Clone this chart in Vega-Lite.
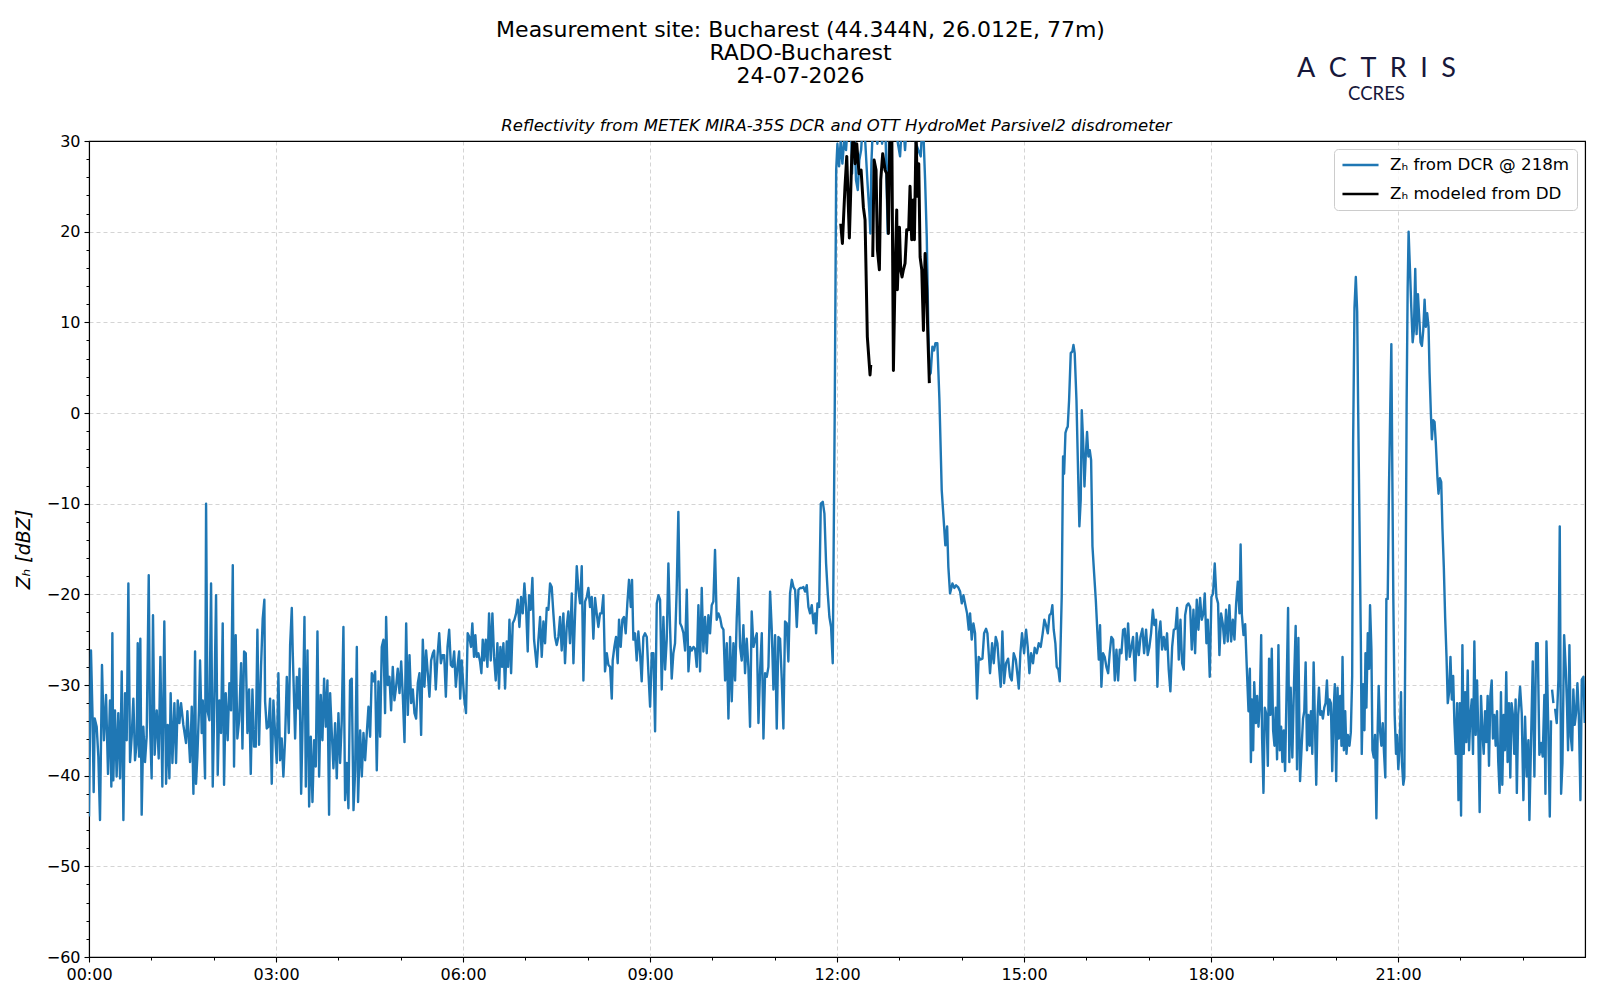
{
  "$schema": "https://vega.github.io/schema/vega-lite/v6.json",
  "width": 1496,
  "height": 816,
  "autosize": {"type": "none"},
  "padding": {"left": 89, "top": 141, "right": 15, "bottom": 43},
  "background": "white",
  "config": {"view": {"stroke": "#000000", "strokeWidth": 1.1}, "font": "DejaVu Sans"},
  "datasets": {
    "dcr": [
      {"m":0,"z":-44.5},{"m":1.9,"z":-26.2},{"m":3.5,"z":-33.9},{"m":4.5,"z":-41.8},{"m":5.5,"z":-33.7},{"m":7.4,"z":-34.6},{"m":9,"z":-37.9},{"m":10.6,"z":-44.9},{"m":12.5,"z":-27.8},{"m":14.4,"z":-36.1},{"m":16.4,"z":-31.1},{"m":18.3,"z":-39.8},{"m":20.2,"z":-31.7},{"m":21.5,"z":-41.2},{"m":22.5,"z":-24.3},{"m":23.4,"z":-40.5},{"m":25,"z":-32.8},{"m":26.6,"z":-40.1},{"m":28.2,"z":-33.1},{"m":29.9,"z":-40.3},{"m":31.5,"z":-28.5},{"m":33.1,"z":-44.9},{"m":34.7,"z":-30.9},{"m":36.3,"z":-36.1},{"m":37.9,"z":-18.8},{"m":39.5,"z":-38.5},{"m":41.1,"z":-35.7},{"m":42.7,"z":-31.5},{"m":44.3,"z":-38.3},{"m":45.9,"z":-36.4},{"m":46.9,"z":-25.4},{"m":48.2,"z":-37.9},{"m":49.4,"z":-24.9},{"m":50.7,"z":-44.3},{"m":52.3,"z":-34.6},{"m":53.9,"z":-38.5},{"m":55.5,"z":-35.7},{"m":57.5,"z":-17.9},{"m":58.7,"z":-34.2},{"m":60.3,"z":-40.3},{"m":61.6,"z":-22.3},{"m":63.2,"z":-37.7},{"m":65.2,"z":-32.8},{"m":67.1,"z":-38.1},{"m":68.7,"z":-26.9},{"m":70.6,"z":-41.2},{"m":72.5,"z":-23},{"m":74.2,"z":-40.9},{"m":75.8,"z":-34.4},{"m":77.4,"z":-40.3},{"m":78.6,"z":-30.9},{"m":80.3,"z":-38.6},{"m":82.2,"z":-32},{"m":83.8,"z":-38.6},{"m":85.4,"z":-31.7},{"m":87,"z":-34.2},{"m":88.6,"z":-32},{"m":90.8,"z":-34.4},{"m":93.4,"z":-36.4},{"m":94.7,"z":-32.9},{"m":97.3,"z":-38.5},{"m":98.9,"z":-32.4},{"m":100.5,"z":-42},{"m":102.1,"z":-26.3},{"m":103,"z":-40.9},{"m":104.3,"z":-37.9},{"m":105.9,"z":-32.6},{"m":106.9,"z":-27.3},{"m":108.5,"z":-35.3},{"m":109.5,"z":-31.7},{"m":111.7,"z":-40.3},{"m":112.7,"z":-10},{"m":114,"z":-32.8},{"m":115.9,"z":-33.9},{"m":117.5,"z":-18.8},{"m":119.1,"z":-41.2},{"m":120.7,"z":-31.7},{"m":122.3,"z":-20.1},{"m":123.9,"z":-39.9},{"m":125.5,"z":-31.7},{"m":127.1,"z":-35.3},{"m":128.7,"z":-23.2},{"m":130,"z":-41},{"m":131.6,"z":-30.9},{"m":133.5,"z":-36.1},{"m":135.1,"z":-29.8},{"m":136.7,"z":-32.8},{"m":138.4,"z":-16.8},{"m":139.6,"z":-39},{"m":141.2,"z":-24.5},{"m":142.8,"z":-35.9},{"m":144.5,"z":-33.9},{"m":146.4,"z":-27.6},{"m":147.7,"z":-37},{"m":149.3,"z":-26.3},{"m":150.9,"z":-26.5},{"m":152.5,"z":-35.3},{"m":154.1,"z":-30.5},{"m":155.7,"z":-39.8},{"m":157.3,"z":-30.5},{"m":158.9,"z":-36.8},{"m":160.5,"z":-36.8},{"m":162.1,"z":-23.9},{"m":163.7,"z":-36.6},{"m":165.6,"z":-28},{"m":167.2,"z":-22.7},{"m":168.8,"z":-20.6},{"m":169.5,"z":-31.8},{"m":171.1,"z":-34.8},{"m":172.7,"z":-34.6},{"m":174.3,"z":-31.5},{"m":175.9,"z":-40.9},{"m":177.5,"z":-31.7},{"m":179.1,"z":-35.3},{"m":180.7,"z":-38.6},{"m":182.3,"z":-28.7},{"m":183.9,"z":-38.3},{"m":185.5,"z":-35.9},{"m":187.1,"z":-40.1},{"m":188.7,"z":-36.1},{"m":190.4,"z":-29.1},{"m":192.3,"z":-35.3},{"m":193.6,"z":-25.6},{"m":195.2,"z":-21.5},{"m":196.1,"z":-26.3},{"m":198.4,"z":-35.9},{"m":200,"z":-29.1},{"m":201.6,"z":-32.6},{"m":202.6,"z":-28.2},{"m":204.2,"z":-42},{"m":205.8,"z":-33.1},{"m":207.4,"z":-22.5},{"m":208.7,"z":-41.2},{"m":210.3,"z":-26.2},{"m":211.9,"z":-43.4},{"m":213.5,"z":-35.7},{"m":215.1,"z":-42.9},{"m":216.7,"z":-36.1},{"m":218.3,"z":-39},{"m":219.9,"z":-24.1},{"m":221.5,"z":-40.1},{"m":223.1,"z":-31.1},{"m":224.7,"z":-36.1},{"m":226.3,"z":-29.3},{"m":227.9,"z":-34.6},{"m":229.5,"z":-29.5},{"m":231.1,"z":-44.3},{"m":232.1,"z":-30.9},{"m":233.7,"z":-35.3},{"m":235.3,"z":-39.2},{"m":236.9,"z":-34.2},{"m":238.5,"z":-40.3},{"m":240.1,"z":-33.1},{"m":241.7,"z":-38.6},{"m":243.3,"z":-33.9},{"m":244.9,"z":-23.6},{"m":246.5,"z":-42.7},{"m":248.1,"z":-38.6},{"m":249.7,"z":-43.6},{"m":251.3,"z":-29.5},{"m":252.9,"z":-29.3},{"m":254.6,"z":-43.8},{"m":256.2,"z":-39.4},{"m":257.8,"z":-25.8},{"m":259,"z":-42.9},{"m":261,"z":-35},{"m":262.6,"z":-40.1},{"m":264.2,"z":-35.3},{"m":265.8,"z":-38.3},{"m":267.4,"z":-35.3},{"m":269,"z":-32.4},{"m":270.6,"z":-35.7},{"m":272.2,"z":-28.7},{"m":273.8,"z":-29.6},{"m":275.4,"z":-28.5},{"m":277,"z":-39.4},{"m":278.6,"z":-29.6},{"m":280.2,"z":-35.7},{"m":281.8,"z":-25.8},{"m":283.4,"z":-25},{"m":285,"z":-33.1},{"m":286,"z":-22.5},{"m":287.6,"z":-30},{"m":289.2,"z":-29.1},{"m":290.8,"z":-32.8},{"m":292.4,"z":-28},{"m":294,"z":-31.7},{"m":295.6,"z":-30.2},{"m":297.2,"z":-28.2},{"m":298.9,"z":-30.9},{"m":300.5,"z":-27.4},{"m":302.1,"z":-31.3},{"m":303.7,"z":-36.3},{"m":305.3,"z":-23.2},{"m":306.9,"z":-33.3},{"m":308.5,"z":-26.7},{"m":310.1,"z":-32},{"m":311.7,"z":-30.5},{"m":313.3,"z":-33.1},{"m":314.9,"z":-33.7},{"m":316.5,"z":-29.8},{"m":318.1,"z":-28.7},{"m":319.7,"z":-35.5},{"m":321.3,"z":-25},{"m":322.9,"z":-30.2},{"m":324.5,"z":-26.2},{"m":326.1,"z":-28.7},{"m":327.7,"z":-31.3},{"m":329.3,"z":-27.3},{"m":331,"z":-26.5},{"m":332.2,"z":-26.2},{"m":333.8,"z":-30.5},{"m":335.4,"z":-26.9},{"m":337.1,"z":-24.3},{"m":338.7,"z":-27.6},{"m":340.3,"z":-26.7},{"m":341.9,"z":-26.7},{"m":343.5,"z":-31.3},{"m":345.1,"z":-25.8},{"m":346.7,"z":-23.9},{"m":348.3,"z":-27.8},{"m":349.9,"z":-28},{"m":351.5,"z":-26.3},{"m":353.1,"z":-30.2},{"m":354.7,"z":-28},{"m":356.3,"z":-26.3},{"m":357.3,"z":-31.5},
      {"m":358.8,"z":-27.3},{"m":361,"z":-31.3},{"m":362.9,"z":-33.1},{"m":364.5,"z":-24.3},{"m":366.1,"z":-24.7},{"m":367.7,"z":-25.8},{"m":369,"z":-23.2},{"m":370.6,"z":-26.9},{"m":371.9,"z":-24.5},{"m":373.2,"z":-26.9},{"m":374.8,"z":-26.5},{"m":376.4,"z":-27.4},{"m":377.7,"z":-28.7},{"m":379,"z":-25},{"m":380.3,"z":-27.3},{"m":381.9,"z":-25},{"m":383.5,"z":-28},{"m":385.1,"z":-22.1},{"m":386.7,"z":-27.3},{"m":388.3,"z":-22.1},{"m":389.9,"z":-26.9},{"m":391.5,"z":-29.5},{"m":393.1,"z":-25.4},{"m":394.7,"z":-30.4},{"m":396,"z":-25.8},{"m":397.6,"z":-28},{"m":398.9,"z":-25.4},{"m":400.5,"z":-30.4},{"m":402.1,"z":-25.2},{"m":403.4,"z":-28},{"m":404.7,"z":-22.8},{"m":406.3,"z":-28.7},{"m":407.9,"z":-23.2},{"m":409.5,"z":-22.8},{"m":411.1,"z":-22.1},{"m":412.7,"z":-20.6},{"m":414.3,"z":-23.6},{"m":415.9,"z":-20.3},{"m":417.5,"z":-22.1},{"m":419.1,"z":-18.8},{"m":420.7,"z":-21.4},{"m":422.3,"z":-26.3},{"m":423.6,"z":-20.1},{"m":425.2,"z":-21.7},{"m":426.8,"z":-18.2},{"m":428.4,"z":-25},{"m":431,"z":-28},{"m":432.6,"z":-25},{"m":434.2,"z":-22.5},{"m":435.8,"z":-26.9},{"m":437.4,"z":-23},{"m":439,"z":-25.4},{"m":440.6,"z":-21.5},{"m":442.2,"z":-21.7},{"m":443.8,"z":-18.8},{"m":445.4,"z":-19.2},{"m":447,"z":-22.1},{"m":448.6,"z":-24.7},{"m":450.2,"z":-25.6},{"m":451.8,"z":-24.7},{"m":453.4,"z":-22.5},{"m":455,"z":-26.2},{"m":456.6,"z":-22.1},{"m":458.2,"z":-27.6},{"m":459.8,"z":-23.6},{"m":461.4,"z":-21.9},{"m":463,"z":-25.4},{"m":464.7,"z":-19.9},{"m":466.3,"z":-27.6},{"m":467.9,"z":-22.1},{"m":469.5,"z":-16.9},{"m":471.1,"z":-19.5},{"m":472.7,"z":-21},{"m":474.3,"z":-16.9},{"m":475.9,"z":-29.5},{"m":477.5,"z":-20.8},{"m":479.1,"z":-20.3},{"m":480.7,"z":-19.3},{"m":482.3,"z":-21.4},{"m":483.9,"z":-20.3},{"m":485.5,"z":-24.9},{"m":487.1,"z":-20.4},{"m":488.7,"z":-22.1},{"m":490.3,"z":-23.6},{"m":491.9,"z":-22.1},{"m":493.5,"z":-22.1},{"m":495.1,"z":-20.1},{"m":496.7,"z":-28.5},{"m":498.4,"z":-26.5},{"m":500,"z":-27.8},{"m":501.6,"z":-28},{"m":503.2,"z":-31.5},{"m":504.1,"z":-27.3},{"m":505.7,"z":-25.8},{"m":507.3,"z":-24.7},{"m":508.9,"z":-27.6},{"m":510.2,"z":-22.8},{"m":511.8,"z":-25.8},{"m":513.4,"z":-22.8},{"m":515,"z":-22.5},{"m":516.6,"z":-24.3},{"m":518.2,"z":-21},{"m":519.8,"z":-18.4},{"m":521.5,"z":-21.4},{"m":522.7,"z":-18.4},{"m":524,"z":-25},{"m":525.6,"z":-24.3},{"m":527.2,"z":-27.3},{"m":528.8,"z":-24.1},{"m":530.4,"z":-26.5},{"m":532,"z":-29.6},{"m":533.6,"z":-24.7},{"m":535.2,"z":-24.3},{"m":536.9,"z":-24.7},{"m":538.5,"z":-28.7},{"m":540.1,"z":-32.4},{"m":541.7,"z":-26.5},{"m":543.3,"z":-26.5},{"m":544.9,"z":-35.1},{"m":546.5,"z":-21},{"m":548.1,"z":-20.1},{"m":549.7,"z":-20.6},{"m":551.3,"z":-30.5},{"m":552.9,"z":-22.5},{"m":554.5,"z":-28.3},{"m":556.1,"z":-25},{"m":557.7,"z":-16.6},{"m":559.3,"z":-23.6},{"m":560.9,"z":-29.3},{"m":562.5,"z":-26.5},{"m":564.1,"z":-25.4},{"m":565.7,"z":-19.5},{"m":567.3,"z":-10.9},{"m":569,"z":-23.2},{"m":570.6,"z":-23.6},{"m":572.2,"z":-24.3},{"m":573.8,"z":-26.2},{"m":575.4,"z":-19.5},{"m":577,"z":-28.5},{"m":578.6,"z":-25.8},{"m":580.2,"z":-26.2},{"m":581.8,"z":-25.8},{"m":583.4,"z":-26},{"m":585,"z":-28},{"m":586.6,"z":-21.2},{"m":588.2,"z":-28.5},{"m":589.8,"z":-19.3},{"m":591.4,"z":-26.3},{"m":593,"z":-22.5},{"m":594.6,"z":-26.5},{"m":596.2,"z":-22.3},{"m":597.8,"z":-24.3},{"m":599.4,"z":-21.2},{"m":601,"z":-20.8},{"m":602.6,"z":-15.1},{"m":604.2,"z":-22.8},{"m":605.9,"z":-22.1},{"m":607.5,"z":-22.6},{"m":609.1,"z":-23.6},{"m":610.7,"z":-23.9},{"m":612.3,"z":-29.5},{"m":613.9,"z":-25.4},{"m":615.5,"z":-33.7},{"m":617.1,"z":-24.7},{"m":618.7,"z":-31.8},{"m":620.3,"z":-25.4},{"m":621.9,"z":-29.5},{"m":623.5,"z":-22.6},{"m":625.1,"z":-18.2},{"m":626.7,"z":-25.8},{"m":628.3,"z":-27.3},{"m":629.9,"z":-23.4},{"m":631.5,"z":-28.7},{"m":633.1,"z":-24.9},{"m":634.7,"z":-28},{"m":636.3,"z":-34.6},{"m":637.9,"z":-21.9},{"m":639.6,"z":-25.8},{"m":641.2,"z":-25},{"m":642.8,"z":-24.3},{"m":644.4,"z":-34.2},{"m":646,"z":-28.3},{"m":647.6,"z":-24.3},{"m":649.2,"z":-35.9},{"m":650.8,"z":-28.7},{"m":652.4,"z":-29.1},{"m":654,"z":-28},{"m":655.6,"z":-19.7},{"m":657.2,"z":-23.9},{"m":658.8,"z":-30.5},{"m":660.4,"z":-24.5},{"m":662,"z":-34.8},{"m":663.6,"z":-24.7},{"m":665.2,"z":-24.9},{"m":666.8,"z":-29.3},{"m":668.4,"z":-34.8},{"m":670,"z":-23},{"m":671.6,"z":-23.2},{"m":673.2,"z":-27.4},{"m":674.8,"z":-19.9},{"m":676.5,"z":-18.4},{"m":678.1,"z":-19.2},{"m":679.7,"z":-19.5},{"m":681.3,"z":-23.6},{"m":682.9,"z":-19.5},{"m":684.5,"z":-19.3},{"m":686.1,"z":-19.3},{"m":687.7,"z":-19.2},{"m":689.3,"z":-19.7},{"m":690.9,"z":-19},{"m":692.5,"z":-21.4},{"m":694.1,"z":-22.1},{"m":695.7,"z":-21.2},{"m":697.3,"z":-23.2},{"m":698.9,"z":-22.1},{"m":699.9,"z":-24.3},{"m":701.2,"z":-21},{"m":702.8,"z":-21.4},{"m":704.4,"z":-10},{"m":706.3,"z":-9.8},{"m":707.9,"z":-11.1},{"m":709.5,"z":-16.6},{"m":711.1,"z":-19.9},{"m":712.7,"z":-22.5},{"m":714.3,"z":-23.6},{"m":715.9,"z":-27.6},
      {"m":717.8,"z":0},{"m":719.2,"z":26.8},{"m":720.4,"z":29.7},{"m":722,"z":27.2},{"m":723.6,"z":30.1},{"m":725.2,"z":27.5},{"m":726.8,"z":29.9},{"m":728.7,"z":29},{"m":731,"z":33},{"m":733.2,"z":33},{"m":734.5,"z":26.4},{"m":736.4,"z":33},{"m":738.3,"z":25.7},{"m":740,"z":24.6},{"m":741.5,"z":27.9},{"m":743.2,"z":29},{"m":745.4,"z":33},{"m":747.3,"z":29.7},{"m":749.2,"z":25.7},{"m":751.2,"z":22},{"m":752.1,"z":19.8},{"m":753.1,"z":27.5},{"m":755,"z":33},{"m":758.9,"z":29.7},{"m":760.8,"z":33},{"m":763.4,"z":29.7},{"m":766.3,"z":33},{"m":768.8,"z":19.8},{"m":770.4,"z":33},{"m":778.1,"z":30.1},{"m":780.7,"z":28.3},{"m":783,"z":33},{"m":785.5,"z":29},{"m":787.8,"z":33},{"m":790.3,"z":30.1},{"m":792.9,"z":33},{"m":796.1,"z":29.7},{"m":798.3,"z":29},{"m":800.6,"z":28.3},{"m":802.5,"z":33},{"m":804.8,"z":25.7},{"m":806.4,"z":19.4},{"m":808,"z":8.8},{"m":809,"z":4.2},{"m":810.2,"z":4.4},{"m":811.8,"z":7.3},{"m":813.4,"z":6.9},{"m":814.7,"z":7.7},{"m":816.6,"z":7.7},
      {"m":818.6,"z":1.4},{"m":820.8,"z":-8.5},{"m":823.1,"z":-12.5},{"m":824.3,"z":-14.6},{"m":826,"z":-12.5},{"m":827.2,"z":-17},{"m":828.8,"z":-19.9},{"m":831.1,"z":-18.8},{"m":833,"z":-19.3},{"m":834.6,"z":-19},{"m":836.5,"z":-19.2},{"m":838.5,"z":-19.7},{"m":840.1,"z":-21},{"m":841.7,"z":-20.1},{"m":843.6,"z":-21.2},{"m":845.2,"z":-22.1},{"m":846.8,"z":-23.9},{"m":848.1,"z":-22.1},{"m":849.7,"z":-25},{"m":851.3,"z":-23.2},{"m":852.9,"z":-24.3},{"m":854.8,"z":-31.5},{"m":856.4,"z":-26.9},{"m":858,"z":-27.2},{"m":860,"z":-27.1},{"m":861.6,"z":-24.3},{"m":863.5,"z":-23.8},{"m":864.8,"z":-24.3},{"m":867.3,"z":-28.7},{"m":869.3,"z":-25.4},{"m":870.9,"z":-27.6},{"m":872.8,"z":-24.7},{"m":874.4,"z":-25.4},{"m":876,"z":-28},{"m":877.6,"z":-30.2},{"m":879.2,"z":-24.1},{"m":880.8,"z":-29.8},{"m":882.7,"z":-27.6},{"m":884.7,"z":-27.1},{"m":886.6,"z":-29.1},{"m":888.2,"z":-29.5},{"m":890.1,"z":-26.5},{"m":892.1,"z":-27.2},{"m":893.7,"z":-28.9},{"m":895,"z":-30.4},{"m":896.5,"z":-26.5},{"m":898.1,"z":-24.3},{"m":900.1,"z":-26.5},{"m":902,"z":-23.9},{"m":903.6,"z":-25.8},{"m":905.2,"z":-28.7},{"m":906.8,"z":-26.5},{"m":908.7,"z":-27.6},{"m":910.3,"z":-25.9},{"m":912.3,"z":-26.5},{"m":914.2,"z":-25.4},{"m":916.1,"z":-25.8},{"m":918,"z":-24.3},{"m":919.6,"z":-22.8},{"m":921.2,"z":-23.4},{"m":922.9,"z":-24.3},{"m":924.5,"z":-22.3},{"m":926.1,"z":-22.1},{"m":927.3,"z":-21.2},{"m":928.6,"z":-23.9},{"m":930.2,"z":-25.4},{"m":931.5,"z":-28},{"m":933.1,"z":-28.3},{"m":934.4,"z":-29.6},{"m":936.3,"z":-20.3},{"m":937.6,"z":-4.8},{"m":938.6,"z":-6.7},{"m":939.9,"z":-2.2},{"m":941.2,"z":-1.7},{"m":942.1,"z":-1.5},{"m":943.4,"z":1.4},{"m":945,"z":6.6},{"m":946.6,"z":6.8},{"m":947.6,"z":7.5},{"m":948.8,"z":6.6},{"m":950.5,"z":1.4},{"m":952.1,"z":-6.7},{"m":953.3,"z":-12.5},{"m":954.6,"z":-9.6},{"m":955.6,"z":0.3},{"m":956.9,"z":-3},{"m":958.2,"z":-8.1},{"m":959.4,"z":-4.8},{"m":960.7,"z":-2.1},{"m":962,"z":-4.8},{"m":963.3,"z":-4.1},{"m":964.6,"z":-5.2},{"m":965.9,"z":-14.7},{"m":967.5,"z":-17.7},{"m":969.1,"z":-20.6},{"m":970.7,"z":-24.3},{"m":972,"z":-27.2},{"m":973.2,"z":-23.4},{"m":974.5,"z":-30.2},{"m":976.1,"z":-26.5},{"m":977.7,"z":-26.9},{"m":979.3,"z":-28},{"m":981,"z":-28.7},{"m":982.5,"z":-26.5},{"m":984.1,"z":-24.7},{"m":985.8,"z":-25},{"m":987.4,"z":-29.5},{"m":989,"z":-26.1},{"m":990.6,"z":-29.5},{"m":992.2,"z":-26.1},{"m":993.8,"z":-26.5},{"m":995.4,"z":-23.9},{"m":997,"z":-23.8},{"m":998.6,"z":-27.2},{"m":1000.2,"z":-23.2},{"m":1001.8,"z":-26.9},{"m":1003.4,"z":-25.8},{"m":1005,"z":-24.7},{"m":1006.9,"z":-29.5},{"m":1008.5,"z":-24.3},{"m":1010.5,"z":-26.7},{"m":1012.1,"z":-24.7},{"m":1014,"z":-23.8},{"m":1015.6,"z":-26.5},{"m":1017.5,"z":-23.9},{"m":1019.1,"z":-26.7},{"m":1020.7,"z":-25.8},{"m":1022.3,"z":-24.3},{"m":1024,"z":-21.7},{"m":1025.5,"z":-23.4},{"m":1027.1,"z":-22.8},{"m":1028.4,"z":-30.2},{"m":1030,"z":-24.3},{"m":1031.3,"z":-23},{"m":1032.9,"z":-26.1},{"m":1034.5,"z":-24.7},{"m":1036.1,"z":-26.1},{"m":1037.7,"z":-24.3},{"m":1039.3,"z":-28.3},{"m":1040.9,"z":-30.7},{"m":1042.6,"z":-25.8},{"m":1044.2,"z":-23.9},{"m":1045.8,"z":-23.8},{"m":1047.4,"z":-21.5},{"m":1049,"z":-27.2},{"m":1050.6,"z":-22.8},{"m":1052.2,"z":-27.6},{"m":1053.8,"z":-28.3},{"m":1055.1,"z":-22.3},{"m":1056.7,"z":-21.2},{"m":1058.3,"z":-21},{"m":1059.9,"z":-21.4},{"m":1061.5,"z":-26.1},{"m":1063.1,"z":-21.7},{"m":1064.7,"z":-26.5},{"m":1066.3,"z":-20.6},{"m":1067.9,"z":-23.9},{"m":1069.5,"z":-20.4},{"m":1071.1,"z":-22.8},{"m":1072.7,"z":-22.1},{"m":1074,"z":-19.9},{"m":1075.6,"z":-25.4},{"m":1076.9,"z":-22.8},{"m":1078.8,"z":-29.1},{"m":1080.4,"z":-20.3},{"m":1082,"z":-19.9},{"m":1083.6,"z":-16.6},{"m":1085.2,"z":-20.3},{"m":1086.8,"z":-21},{"m":1088.1,"z":-26.7},{"m":1089.7,"z":-22.1},{"m":1091.3,"z":-23.2},{"m":1092.9,"z":-25.4},{"m":1094.5,"z":-21.7},{"m":1096.1,"z":-25.2},{"m":1097.7,"z":-21.2},{"m":1099.4,"z":-25.2},{"m":1101,"z":-22.8},{"m":1102.6,"z":-25},{"m":1104.2,"z":-21},{"m":1105.8,"z":-18.6},{"m":1107.4,"z":-22.1},
      {"m":1108.5,"z":-14.5},{"m":1109.7,"z":-22.2},{"m":1111.3,"z":-24.5},{"m":1112.9,"z":-23.3},{"m":1114.5,"z":-28.2},{"m":1116.1,"z":-32.9},{"m":1117.4,"z":-28.2},{"m":1118.4,"z":-38.5},{"m":1119.3,"z":-31.6},{"m":1120.6,"z":-37.2},{"m":1121.6,"z":-29.7},{"m":1123.2,"z":-34.2},{"m":1124.4,"z":-31.2},{"m":1125.7,"z":-34.6},{"m":1127,"z":-32},{"m":1128.3,"z":-24.5},{"m":1129.2,"z":-35.9},{"m":1130.5,"z":-41.9},{"m":1131.8,"z":-32.5},{"m":1133.4,"z":-33.3},{"m":1134.7,"z":-38.9},{"m":1135.9,"z":-27.1},{"m":1137.2,"z":-33.3},{"m":1138.5,"z":-26},{"m":1139.8,"z":-35},{"m":1141.1,"z":-36.7},{"m":1142.3,"z":-32.5},{"m":1143.6,"z":-38.2},{"m":1144.9,"z":-25.6},{"m":1146.2,"z":-37.2},{"m":1147.5,"z":-34.6},{"m":1148.7,"z":-38.5},{"m":1150,"z":-35},{"m":1151.3,"z":-39.5},{"m":1152.6,"z":-31.6},{"m":1154.2,"z":-21.5},{"m":1155.4,"z":-38.5},{"m":1156.7,"z":-30.3},{"m":1158.3,"z":-38},{"m":1159.9,"z":-29.9},{"m":1161.5,"z":-23.5},{"m":1162.8,"z":-39.3},{"m":1164.1,"z":-24.8},{"m":1165.7,"z":-40.6},{"m":1167.3,"z":-36.7},{"m":1168.6,"z":-33.7},{"m":1169.8,"z":-32.9},{"m":1171.1,"z":-27.5},{"m":1172.4,"z":-37.2},{"m":1173.7,"z":-33.3},{"m":1175,"z":-36.7},{"m":1176.2,"z":-32.9},{"m":1177.5,"z":-37.6},{"m":1178.8,"z":-27.5},{"m":1180.1,"z":-34.6},{"m":1181.3,"z":-41},{"m":1182.6,"z":-33.3},{"m":1183.9,"z":-30.3},{"m":1185.2,"z":-33.3},{"m":1186.5,"z":-32.9},{"m":1187.7,"z":-33.7},{"m":1189,"z":-32.5},{"m":1190.3,"z":-32},{"m":1191.6,"z":-29.5},{"m":1192.9,"z":-33.3},{"m":1194.1,"z":-31.6},{"m":1195.4,"z":-32},{"m":1196.7,"z":-39.5},{"m":1198,"z":-32.9},{"m":1199.2,"z":-29.9},{"m":1200.5,"z":-40.6},{"m":1201.8,"z":-30.3},{"m":1203.1,"z":-35.9},{"m":1204.4,"z":-31.2},{"m":1205.6,"z":-36.7},{"m":1206.6,"z":-26.9},{"m":1207.9,"z":-37.2},{"m":1209.2,"z":-32.9},{"m":1210.4,"z":-37.6},{"m":1211.7,"z":-35.5},{"m":1213.3,"z":-36.7},{"m":1214.6,"z":-35.2},{"m":1215.9,"z":-29},{"m":1216.8,"z":-3.3},{"m":1218.1,"z":11.6},{"m":1219.4,"z":15},{"m":1220.7,"z":11.2},{"m":1221.6,"z":0.9},{"m":1222.9,"z":-11.9},{"m":1224.2,"z":-24.8},{"m":1225.1,"z":-37.6},{"m":1226.4,"z":-29.9},{"m":1227.7,"z":-35},{"m":1228.7,"z":-26.5},{"m":1229.6,"z":-32.5},{"m":1230.9,"z":-24.3},{"m":1232.2,"z":-28.2},{"m":1233.1,"z":-21.2},{"m":1234.4,"z":-26},{"m":1235.4,"z":-37.2},{"m":1236.7,"z":-38},{"m":1237.9,"z":-35.5},{"m":1239.2,"z":-44.7},{"m":1240.5,"z":-34.6},{"m":1241.4,"z":-30.1},{"m":1242.7,"z":-35},{"m":1244,"z":-36.7},{"m":1245.3,"z":-34.2},{"m":1246.6,"z":-37.6},{"m":1247.8,"z":-40.2},{"m":1248.8,"z":-20.5},{"m":1250.1,"z":-20.5},{"m":1251.4,"z":-7.6},{"m":1252.6,"z":0.9},{"m":1253.6,"z":7.6},{"m":1254.6,"z":-7.6},{"m":1255.5,"z":-20.5},{"m":1256.8,"z":-33.3},{"m":1258.1,"z":-37.6},{"m":1259,"z":-35.5},{"m":1260.3,"z":-39.3},{"m":1261.6,"z":-36.7},{"m":1262.9,"z":-30.8},{"m":1263.8,"z":-38.5},{"m":1265.1,"z":-41},{"m":1266.1,"z":-40.2},{"m":1267.3,"z":-20.5},{"m":1268.3,"z":0.9},{"m":1269.3,"z":13.8},{"m":1270.2,"z":20},{"m":1271.5,"z":15.9},{"m":1272.8,"z":11.6},{"m":1274.1,"z":7.8},{"m":1275.3,"z":9.1},{"m":1276.6,"z":15.9},{"m":1277.9,"z":8.7},{"m":1279.2,"z":13.1},{"m":1280.5,"z":10.4},{"m":1281.7,"z":7.8},{"m":1283,"z":7.4},{"m":1284.3,"z":9.1},{"m":1285.6,"z":12.5},{"m":1286.8,"z":9.5},{"m":1288.1,"z":11},{"m":1289.4,"z":9.5},{"m":1290.4,"z":4.4},{"m":1291.6,"z":0.1},{"m":1292.6,"z":-2.9},{"m":1293.9,"z":-0.8},{"m":1295.2,"z":-1},{"m":1296.4,"z":-3.3},{"m":1298,"z":-7.2},{"m":1299,"z":-8.9},{"m":1300.3,"z":-7.2},{"m":1301.6,"z":-7.6},{"m":1302.8,"z":-12.8},{"m":1304.1,"z":-17},{"m":1305.4,"z":-22.6},{"m":1306.7,"z":-26.9},{"m":1307.9,"z":-32},{"m":1309.2,"z":-30.8},{"m":1310.5,"z":-26.9},{"m":1311.8,"z":-31.6},{"m":1313.1,"z":-29},{"m":1314.3,"z":-34.2},{"m":1315.6,"z":-37.6},{"m":1316.9,"z":-32},{"m":1318.2,"z":-42.7},{"m":1319.5,"z":-32},{"m":1320.7,"z":-44.4},{"m":1322,"z":-25.6},{"m":1323.3,"z":-37.6},{"m":1324.6,"z":-30.8},{"m":1325.8,"z":-36.3},{"m":1327.1,"z":-28.4},{"m":1328.4,"z":-37.2},{"m":1329.7,"z":-33.3},{"m":1331,"z":-31.6},{"m":1332.2,"z":-37.6},{"m":1333.5,"z":-25.2},{"m":1334.8,"z":-35.5},{"m":1336.1,"z":-29.5},{"m":1337.4,"z":-35.9},{"m":1338.6,"z":-44},{"m":1339.9,"z":-31.2},{"m":1341.2,"z":-35},{"m":1342.5,"z":-37.6},{"m":1343.8,"z":-32.9},{"m":1345,"z":-36.3},{"m":1346.3,"z":-31.2},{"m":1347.6,"z":-38.9},{"m":1348.9,"z":-31.2},{"m":1350.2,"z":-29.5},{"m":1351.4,"z":-35.9},{"m":1352.7,"z":-33.3},{"m":1354,"z":-36.7},{"m":1355.3,"z":-32.9},{"m":1356.5,"z":-38.5},{"m":1357.8,"z":-41.9},{"m":1359.1,"z":-30.8},{"m":1360.4,"z":-41},{"m":1361.7,"z":-33.3},{"m":1362.9,"z":-37.2},{"m":1364.2,"z":-28.6},{"m":1365.5,"z":-38.5},{"m":1366.8,"z":-32},{"m":1368.1,"z":-40.2},{"m":1369.3,"z":-32},{"m":1370.6,"z":-33.3},{"m":1371.9,"z":-37.6},{"m":1373.2,"z":-31.6},{"m":1374.4,"z":-41.9},{"m":1375.7,"z":-33.3},
      {"m":1377.5,"z":-30.2},{"m":1379.1,"z":-33.1},{"m":1380.7,"z":-42.7},{"m":1382.3,"z":-33.5},{"m":1383.9,"z":-40.1},{"m":1385.5,"z":-36.1},{"m":1386.5,"z":-44.9},{"m":1388.1,"z":-36.1},{"m":1389.7,"z":-27.4},{"m":1391.3,"z":-40.1},{"m":1392.9,"z":-25.4},{"m":1394.5,"z":-25.4},{"m":1396.1,"z":-37.7},{"m":1397.7,"z":-36.4},{"m":1399.3,"z":-37.9},{"m":1400.9,"z":-31.1},{"m":1401.9,"z":-42},{"m":1402.9,"z":-25.2},{"m":1404.5,"z":-33.9},{"m":1406.1,"z":-44.5},{"m":1407.3,"z":-33.9},{"m":1407.8,"z":null},{"m":1408.3,"z":-30.5},{"m":1409.6,"z":-32},{"m":1410.4,"z":null},{"m":1411.2,"z":-32.6},{"m":1412.8,"z":-34.2},{"m":1414.4,"z":-29.4},{"m":1415.7,"z":-12.5},{"m":1417,"z":-42},{"m":1418.3,"z":-38.6},{"m":1419.9,"z":-24.5},{"m":1421.5,"z":-28.3},{"m":1422.7,"z":-32.4},{"m":1423.7,"z":-37.2},{"m":1425,"z":-25.6},{"m":1426.3,"z":-35.7},{"m":1427.6,"z":-37.2},{"m":1428.8,"z":-30.5},{"m":1430.1,"z":-34.4},{"m":1431.4,"z":-33.1},{"m":1432.7,"z":-29.8},{"m":1434,"z":-33.1},{"m":1435.6,"z":-42.7},{"m":1436.9,"z":-29.4},{"m":1438.5,"z":-29.1},{"m":1439.8,"z":-34.2}
    ],
    "dd": [
      {"m":723.6,"z":20.9},{"m":725.2,"z":18.7},{"m":727.7,"z":25},{"m":729.4,"z":28.3},{"m":731.9,"z":19.3},{"m":734.2,"z":28.3},{"m":735.8,"z":31},{"m":737.4,"z":27.5},{"m":739,"z":29.7},{"m":741.2,"z":26.4},{"m":743.2,"z":26.8},{"m":745.4,"z":22.7},{"m":747,"z":21.3},{"m":749.2,"z":8.4},{"m":751.8,"z":4.2},{"m":752.5,"z":5.3},{"m":753.5,"z":null},{"m":754.4,"z":17.2},{"m":755.7,"z":27.9},{"m":757.6,"z":26.8},{"m":758.9,"z":18},{"m":760.8,"z":15.8},{"m":762.1,"z":25.7},{"m":764,"z":28.6},{"m":766.3,"z":26.8},{"m":767.9,"z":26.4},{"m":769.5,"z":19.8},{"m":771.1,"z":32},{"m":772.7,"z":32},{"m":774.3,"z":4.7},{"m":775.9,"z":15.4},{"m":777.5,"z":22.4},{"m":778.1,"z":13.6},{"m":780.1,"z":20.5},{"m":781.3,"z":15.8},{"m":782.6,"z":15},{"m":783.9,"z":15.8},{"m":785.5,"z":16.5},{"m":787.1,"z":20.2},{"m":789,"z":20.2},{"m":790.3,"z":25},{"m":791.9,"z":19.1},{"m":793.5,"z":23.5},{"m":794.5,"z":19.1},{"m":796.1,"z":31},{"m":797.4,"z":23.9},{"m":798.7,"z":27.5},{"m":800,"z":17.2},{"m":801.6,"z":15.8},{"m":803.2,"z":9.1},{"m":804.8,"z":17.6},{"m":806.4,"z":13.6},{"m":807.3,"z":9.1},{"m":808.9,"z":3.3}
    ]
  },
  "layer": [
    {
      "data": {"name": "dcr"},
      "mark": {"type": "line", "strokeWidth": 2.4, "clip": true, "strokeJoin": "round", "invalid": "break-paths-show-domains"},
      "encoding": {
        "x": {
          "field": "m", "type": "quantitative",
          "scale": {"domain": [0, 1440], "nice": false, "zero": false},
          "axis": {
            "orient": "bottom",
            "values": [0, 180, 360, 540, 720, 900, 1080, 1260],
            "labelExpr": "(datum.value < 600 ? '0' : '') + floor(datum.value / 60) + ':00'",
            "labelFlush": false, "labelOverlap": false,
            "labelFont": "DejaVu Sans", "labelFontSize": 16, "labelColor": "#000000", "labelPadding": 4,
            "tickColor": "#000000", "tickSize": 5, "tickWidth": 1.1,
            "domainColor": "#000000", "domainWidth": 1.1,
            "grid": true, "gridColor": "#d4d4d4", "gridDash": [4, 3], "gridWidth": 1,
            "title": null
          }
        },
        "y": {
          "field": "z", "type": "quantitative",
          "scale": {"domain": [-60, 30], "nice": false, "zero": false},
          "axis": {
            "orient": "left",
            "values": [-60, -50, -40, -30, -20, -10, 0, 10, 20, 30],
            "format": "d", "labelOverlap": false,
            "labelFont": "DejaVu Sans", "labelFontSize": 16, "labelColor": "#000000", "labelPadding": 4,
            "tickColor": "#000000", "tickSize": 5, "tickWidth": 1.1,
            "domainColor": "#000000", "domainWidth": 1.1,
            "grid": true, "gridColor": "#d4d4d4", "gridDash": [4, 3], "gridWidth": 1,
            "title": "Zₕ [dBZ]", "titleFont": "DejaVu Sans", "titleFontSize": 19, "titleFontStyle": "italic",
            "titleFontWeight": "normal", "titleColor": "#000000",
            "titleX": -66, "titleY": 408, "titleAngle": 270, "titleAlign": "center", "titleBaseline": "middle"
          }
        },
        "color": {
          "datum": "Zₕ from DCR @ 218m",
          "scale": {"domain": ["Zₕ from DCR @ 218m", "Zₕ modeled from DD"], "range": ["#1f77b4", "#000000"]},
          "legend": {
            "orient": "top-right", "offset": 8, "title": null, "padding": 7,
            "strokeColor": "#cccccc", "cornerRadius": 4, "fillColor": "rgba(255,255,255,0.8)",
            "symbolType": "stroke", "symbolSize": 1300, "symbolStrokeWidth": 2.4,
            "labelFont": "DejaVu Sans", "labelFontSize": 16.7, "labelColor": "#000000",
            "labelOffset": 10, "rowPadding": 11, "clipHeight": 18, "labelLimit": 400
          }
        }
      }
    },
    {
      "data": {"name": "dd"},
      "mark": {"type": "line", "strokeWidth": 3, "clip": true, "strokeJoin": "round", "invalid": "break-paths-show-domains"},
      "encoding": {
        "x": {
          "field": "m", "type": "quantitative",
          "scale": {"domain": [0, 1440], "nice": false, "zero": false},
          "axis": {
            "orient": "bottom",
            "values": [60, 120, 240, 300, 420, 480, 600, 660, 780, 840, 960, 1020, 1140, 1200, 1320, 1380],
            "labels": false, "tickColor": "#000000", "tickSize": 3, "tickWidth": 1,
            "domain": false, "grid": false, "title": null
          }
        },
        "y": {
          "field": "z", "type": "quantitative",
          "scale": {"domain": [-60, 30], "nice": false, "zero": false},
          "axis": {
            "orient": "left",
            "values": [-58, -56, -54, -52, -48, -46, -44, -42, -38, -36, -34, -32, -28, -26, -24, -22, -18, -16, -14, -12, -8, -6, -4, -2, 2, 4, 6, 8, 12, 14, 16, 18, 22, 24, 26, 28],
            "labels": false, "tickColor": "#000000", "tickSize": 3, "tickWidth": 1,
            "domain": false, "grid": false, "title": null
          }
        },
        "color": {"datum": "Zₕ modeled from DD"}
      }
    },
    {
      "data": {"name": "dd"},
      "mark": {"type": "point", "opacity": 0},
      "encoding": {
        "x": {
          "field": "m", "type": "quantitative",
          "scale": {"domain": [0, 1440], "nice": false, "zero": false},
          "axis": {
            "orient": "top", "domain": true, "domainColor": "#000000", "domainWidth": 1.1,
            "ticks": false, "labels": false, "grid": false,
            "title": "Reflectivity from METEK MIRA-35S DCR and OTT HydroMet Parsivel2 disdrometer",
            "titleFont": "DejaVu Sans", "titleFontSize": 16.5, "titleFontStyle": "italic", "titleFontWeight": "normal",
            "titleColor": "#000000", "titleX": 747, "titleY": -11, "titleAlign": "center", "titleBaseline": "alphabetic", "titleAngle": 0
          }
        },
        "y": {
          "field": "z", "type": "quantitative",
          "scale": {"domain": [-60, 30], "nice": false, "zero": false},
          "axis": {
            "orient": "right", "domain": true, "domainColor": "#000000", "domainWidth": 1.1,
            "ticks": false, "labels": false, "grid": false,
            "title": "CCRES", "titleFont": "Lato", "titleFontSize": 18.5, "titleFontWeight": "normal",
            "titleColor": "#17173a", "titleX": -209, "titleY": -41.7, "titleAngle": 0,
            "titleAlign": "center", "titleBaseline": "alphabetic"
          }
        }
      }
    },
    {
      "data": {"name": "dd"},
      "mark": {"type": "point", "opacity": 0},
      "encoding": {
        "x": {
          "field": "m", "type": "quantitative",
          "scale": {"domain": [0, 1440], "nice": false, "zero": false},
          "axis": {
            "orient": "top", "domain": false, "ticks": false, "labels": false, "grid": false,
            "title": ["Measurement site: Bucharest (44.344N, 26.012E, 77m)", "RADO-Bucharest", "24-07-2026"],
            "titleFont": "DejaVu Sans", "titleFontSize": 22, "titleFontWeight": "normal", "titleLineHeight": 23,
            "titleColor": "#000000", "titleX": 711, "titleY": -104.3, "titleAlign": "center", "titleBaseline": "alphabetic", "titleAngle": 0
          }
        },
        "y": {
          "field": "z", "type": "quantitative",
          "scale": {"domain": [-60, 30], "nice": false, "zero": false},
          "axis": {
            "orient": "right", "domain": false, "ticks": false, "labels": false, "grid": false,
            "title": "A\u2002C\u2002T\u2002R\u2002I\u2002S", "titleFont": "Lato", "titleFontSize": 27, "titleFontWeight": "normal",
            "titleColor": "#17173a", "titleX": -209, "titleY": -64.5, "titleAngle": 0,
            "titleAlign": "center", "titleBaseline": "alphabetic"
          }
        }
      }
    }
  ],
  "resolve": {"axis": {"x": "independent", "y": "independent"}}
}
